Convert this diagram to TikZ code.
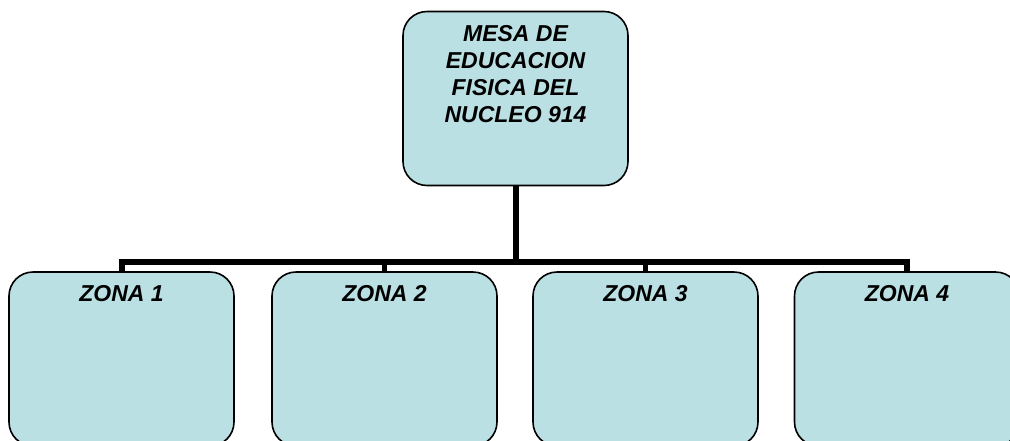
\documentclass[tikz,border=0pt]{standalone}
\usepackage{fontspec}
\setmainfont{Liberation Sans}
\definecolor{boxfill}{RGB}{187,224,227}
\begin{document}
\begin{tikzpicture}[x=1pt,y=-1pt,
  orgbox/.style={draw=black, line width=1.6pt, fill=boxfill, rounded corners=24pt,
    minimum width=225pt, minimum height=174pt, inner sep=0pt},
  boxtext/.style={anchor=north, inner sep=0pt, align=center,
    font=\fontsize{23pt}{27pt}\selectfont\bfseries\itshape},
  conn/.style={line width=6pt, line join=miter, line cap=butt}]
\path[use as bounding box, clip] (0,0) rectangle (1010,440);
\node[orgbox] (top) at (515.5,98.5) {};
\node[orgbox] (z1) at (121.5,359) {};
\node[orgbox] (z2) at (384.5,359) {};
\node[orgbox] (z3) at (645.5,359) {};
\node[orgbox] (z4) at (907,359) {};
\node[boxtext] (toptxt) at ([yshift=-14.5pt]top.north) {MESA DE\\EDUCACION\\FISICA DEL\\NUCLEO 914};
\node[boxtext] (z1t) at ([yshift=-14.5pt]z1.north) {ZONA 1};
\node[boxtext] (z2t) at ([yshift=-14.5pt]z2.north) {ZONA 2};
\node[boxtext] (z3t) at ([yshift=-14.5pt]z3.north) {ZONA 3};
\node[boxtext] (z4t) at ([yshift=-14.5pt]z4.north) {ZONA 4};
\coordinate (bar) at (515.5,261.5);
\draw[conn] (z1.north) -- (z1.north |- bar) -- (z4.north |- bar) -- (z4.north);
\draw[conn] (top.south) -- (top.south |- bar);
\draw[conn, line width=5pt] (z2.north) -- (z2.north |- bar);
\draw[conn, line width=5pt] (z3.north) -- (z3.north |- bar);
\end{tikzpicture}
\end{document}
